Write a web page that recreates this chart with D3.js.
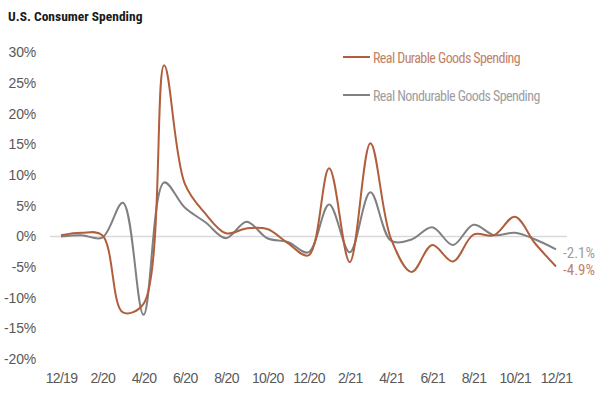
<!DOCTYPE html>
<html>
<head>
<meta charset="utf-8">
<script src="https://cdn.jsdelivr.net/npm/d3@7"></script>
<style>
  body { margin: 0; background: #fff; }
  svg { display: block; font-family: "Roboto Condensed", "Liberation Sans Narrow", "Arial Narrow", sans-serif; }
</style>
</head>
<body>
<div id="chart"></div>
<script>
// monthly change, %
var months = ["12/19","1/20","2/20","3/20","4/20","5/20","6/20","7/20","8/20","9/20","10/20","11/20","12/20",
              "1/21","2/21","3/21","4/21","5/21","6/21","7/21","8/21","9/21","10/21","11/21","12/21"];
var durable = [0.2, 0.6, 0.2, -12.4, -11.0, 27.9, 8.6, 3.7, 0.5, 1.3, 1.2, -1.1, -3.1,
               11.1, -4.2, 15.2, -0.4, -5.8, -1.4, -4.1, 0.3, 0.2, 3.2, -1.2, -4.9];
var nondurable = [0.0, 0.2, -0.2, 5.5, -12.8, 8.8, 4.7, 2.3, -0.3, 2.4, -0.3, -0.9, -2.6,
                  5.2, -2.6, 7.2, -0.7, -0.5, 1.5, -1.4, 1.9, 0.2, 0.6, -0.5, -2.1];
var yTicks = [30, 25, 20, 15, 10, 5, 0, -5, -10, -15, -20];
var xTickLabels = months.filter(function(d, i) { return i % 2 == 0; });
var seriesNames = ["Real Durable Goods Spending", "Real Nondurable Goods Spending"];

var width = 600, height = 399;
var brown = "#b05e3e", gray = "#808080";

var svg = d3.select("#chart")
    .append("svg")
        .attr("width", width)
        .attr("height", height);

var x = d3.scalePoint()
    .domain(months)
    .range([61, 556]);

var y = d3.scaleLinear()
    .domain([-20, 30])
    .range([359, 52.5]);

// title
svg.append("text")
    .attr("x", 8)
    .attr("y", 21)
    .text("U.S. Consumer Spending")
    .style("font-weight", "bold")
    .style("font-size", "13.5px")
    .style("fill", "#1a1a1a");

// y axis labels (no axis line)
var yAxis = d3.axisLeft(y)
    .tickValues(yTicks)
    .tickSize(0)
    .tickPadding(0)
    .tickFormat(function(d) { return d + "%"; });

svg.append("g")
    .attr("transform", "translate(36,0)")
    .call(yAxis)
    .call(function(g) { g.select(".domain").remove(); })
    .selectAll("text")
        .style("font-family", "inherit")
        .style("font-size", "14px")
        .style("letter-spacing", "-0.2px")
        .style("fill", "#595959");

// x axis labels
var xAxis = d3.axisBottom(x)
    .tickValues(xTickLabels)
    .tickSize(0)
    .tickPadding(0);

svg.append("g")
    .attr("transform", "translate(0,373)")
    .call(xAxis)
    .call(function(g) { g.select(".domain").remove(); })
    .selectAll("text")
        .style("font-family", "inherit")
        .style("font-size", "14px")
        .style("letter-spacing", "-0.7px")
        .style("fill", "#595959");

// zero line
svg.append("line")
    .attr("x1", 50)
    .attr("x2", 567)
    .attr("y1", y(0))
    .attr("y2", y(0))
    .style("stroke", "#d9d9d9")
    .style("stroke-width", 1.5);

var line = d3.line()
    .x(function(d, i) { return x(months[i]); })
    .y(function(d) { return y(d); })
    .curve(d3.curveCatmullRom);

svg.append("path")
    .datum(nondurable)
    .attr("d", line)
    .style("fill", "none")
    .style("stroke", gray)
    .style("stroke-width", 2);

svg.append("path")
    .datum(durable)
    .attr("d", line)
    .style("fill", "none")
    .style("stroke", brown)
    .style("stroke-width", 2);

// end labels
svg.append("text")
    .attr("x", 563)
    .attr("y", 257.5)
    .text(nondurable[nondurable.length - 1].toFixed(1) + "%")
    .style("font-size", "15px")
    .style("fill", "#9e9e9e");

svg.append("text")
    .attr("x", 563)
    .attr("y", 275)
    .text(durable[durable.length - 1].toFixed(1) + "%")
    .style("font-size", "15px")
    .style("fill", "#bf8268");

// legend
var legend = svg.selectAll(".legend")
    .data(seriesNames)
    .enter()
    .append("g")
        .attr("class", "legend")
        .attr("transform", function(d, i) { return "translate(343," + (57 + i * 38) + ")"; });

legend.append("line")
    .attr("x1", 0)
    .attr("x2", 27)
    .style("stroke", function(d, i) { return i == 0 ? brown : gray; })
    .style("stroke-width", 2);

legend.append("text")
    .attr("x", 30)
    .attr("y", 5.5)
    .text(function(d) { return d; })
    .style("font-size", "14px")
    .style("letter-spacing", "-0.58px")
    .style("fill", function(d, i) { return i == 0 ? "#bf8268" : "#9e9e9e"; });
</script>
</body>
</html>
